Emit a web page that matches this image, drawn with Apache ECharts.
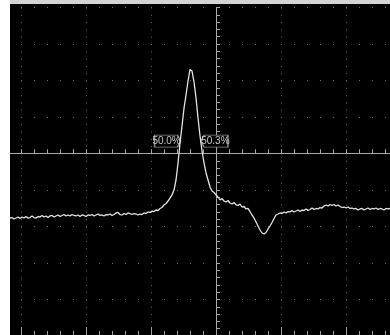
<!DOCTYPE html>
<html>
<head>
<meta charset="utf-8">
<script src="https://cdn.jsdelivr.net/npm/echarts@6/dist/echarts.min.js"></script>
<style>
html,body{margin:0;padding:0;background:#fff;}
#c{width:390px;height:335px;}
</style>
</head>
<body>
<div id="c"></div>
<script>
// Sampled waveform: time (ns) = timeStart + i * timeStep, voltage in mV (50 mV/div, 10 ns/div)
const timeStart = -31.69;
const timeStep = 0.3077;
const voltage = [
-88.4,-87.7,-89.7,-88.4,-87.0,-89.0,-87.0,-88.4,-86.3,-88.4,
-87.7,-85.6,-87.7,-88.4,-86.3,-87.0,-84.9,-87.0,-85.6,-87.7,
-85.6,-84.9,-87.0,-85.6,-84.2,-86.3,-84.9,-83.6,-85.6,-84.2,
-85.6,-83.6,-84.9,-85.6,-84.2,-86.3,-84.2,-84.9,-86.3,-84.2,
-84.9,-83.6,-85.6,-84.2,-82.9,-84.9,-84.2,-85.6,-83.6,-84.2,
-82.9,-84.9,-83.6,-81.5,-80.8,-83.6,-84.2,-82.2,-83.6,-81.5,
-82.2,-83.6,-82.2,-82.9,-84.2,-82.9,-83.6,-81.5,-82.2,-80.1,
-80.8,-78.8,-79.5,-77.4,-78.1,-75.3,-74.0,-70.5,-68.5,-65.1,
-61.0,-56.8,-50.0,-36.3,-13.0,14.4,37.7,62.3,80.1,99.3,
115.1,113.0,97.9,76.0,48.6,24.0,3.4,-13.0,-26.7,-36.3,
-45.9,-51.4,-53.4,-56.8,-59.6,-63.7,-61.8,-65.1,-66.4,-64.4,
-67.8,-69.2,-67.1,-70.5,-71.2,-69.2,-73.3,-72.6,-76.0,-75.3,
-79.5,-84.2,-88.4,-93.8,-99.3,-104.8,-108.9,-110.3,-108.2,-103.4,
-99.3,-94.5,-89.0,-84.2,-82.9,-81.5,-82.2,-80.1,-81.5,-79.5,
-80.1,-78.1,-80.1,-78.8,-77.4,-79.5,-77.4,-78.1,-76.0,-78.1,
-76.7,-74.7,-76.7,-75.3,-76.0,-74.0,-74.7,-71.9,-70.5,-71.9,
-69.9,-71.2,-69.9,-71.9,-70.5,-72.6,-74.0,-73.3,-74.7,-73.3,
-75.3,-74.7,-76.0,-75.3,-77.4,-76.0,-75.3,-77.4,-76.0,-74.7,
-76.7,-75.3,-76.0,-74.7,-76.7,-75.3,-76.0,-77.4,-75.3,-76.0,
-75.3
];
// Cursor readouts at the 50% crossings: [time ns, mV, text]
const cursorLabels = [
  [-5.45, 17, '50.0%'],
  [-2.4, 17, '50.3%']
];

const points = voltage.map((v, i) => [timeStart + i * timeStep, v]);

const gridLine = '#a8a8a8';
const dotColor = '#6a6a6a';

const chart = echarts.init(document.getElementById('c'), null, {renderer:'canvas'});
const xBase = {type:'value', min:-40, max:30, interval:10, axisLabel:{show:false}, gridIndex:0};
const yBase = {type:'value', min:-250, max:200, interval:50, axisLabel:{show:false}, gridIndex:0};

chart.setOption({
  animation:false,
  backgroundColor:'#000',
  grid:{left:-44, width:455, top:7.5, height:328.5, containLabel:false, outerBoundsMode:'none'},
  xAxis:[
    Object.assign({}, xBase, {
      axisLine:{show:true, onZero:true, lineStyle:{color:gridLine, width:1}},
      axisTick:{show:true, inside:true, length:4, lineStyle:{color:gridLine}},
      minorTick:{show:true, splitNumber:5, length:4, lineStyle:{color:gridLine}},
      splitLine:{show:true, lineStyle:{color:dotColor, width:1, type:[1,6.3]}}
    }),
    Object.assign({}, xBase, {
      axisLine:{show:true, onZero:true, lineStyle:{color:gridLine, width:1}},
      axisTick:{show:true, inside:false, length:4, lineStyle:{color:gridLine}},
      minorTick:{show:true, splitNumber:5, length:4, lineStyle:{color:gridLine}},
      splitLine:{show:false}
    }),
    Object.assign({}, xBase, {
      position:'bottom',
      axisLine:{show:true, onZero:false, lineStyle:{color:'#8a8a8a', width:1}},
      axisTick:{show:true, inside:true, length:9, lineStyle:{color:'#a0a0a0'}},
      minorTick:{show:true, splitNumber:5, length:5, lineStyle:{color:'#a0a0a0'}},
      splitLine:{show:false}
    })
  ],
  yAxis:[
    Object.assign({}, yBase, {
      axisLine:{show:true, onZero:true, onZeroAxisIndex:0, lineStyle:{color:gridLine, width:1}},
      axisTick:{show:true, inside:true, length:4, lineStyle:{color:gridLine}},
      minorTick:{show:true, splitNumber:5, length:4, lineStyle:{color:gridLine}},
      splitLine:{show:true, lineStyle:{color:dotColor, width:1, type:[1,12]}}
    }),
    Object.assign({}, yBase, {
      axisLine:{show:true, onZero:true, onZeroAxisIndex:0, lineStyle:{color:gridLine, width:1}},
      axisTick:{show:true, inside:false, length:4, lineStyle:{color:gridLine}},
      minorTick:{show:true, splitNumber:5, length:4, lineStyle:{color:gridLine}},
      splitLine:{show:false}
    })
  ],
  series:[{
    type:'line',
    xAxisIndex:0, yAxisIndex:0,
    data:points,
    showSymbol:false,
    lineStyle:{color:'#e4e4e4', width:1.3},
    z:5,
    markPoint:{
      silent:true,
      data:[
        {
          coord:[cursorLabels[0][0], cursorLabels[0][1]],
          symbol:'path://M0,0 L23,0 L26,6 L23,12 L0,12 Z',
          symbolSize:[26,12], symbolOffset:[-13,0],
          itemStyle:{color:'#000', borderColor:'#8c8c8c', borderWidth:1},
          label:{show:true, formatter:cursorLabels[0][2], position:'inside', offset:[-1,0.5],
            color:'#c8c8c8', fontSize:10, fontFamily:'Liberation Sans Narrow, Liberation Sans, sans-serif'}
        },
        {
          coord:[cursorLabels[1][0], cursorLabels[1][1]],
          symbol:'path://M3,0 L26,0 L26,12 L3,12 L0,6 Z',
          symbolSize:[27,12], symbolOffset:[14,0],
          itemStyle:{color:'#000', borderColor:'#8c8c8c', borderWidth:1},
          label:{show:true, formatter:cursorLabels[1][2], position:'inside', offset:[1,0.5],
            color:'#c8c8c8', fontSize:10, fontFamily:'Liberation Sans Narrow, Liberation Sans, sans-serif'}
        }
      ]
    }
  }],
  graphic:[
    {type:'rect', shape:{x:0, y:0, width:10, height:335}, style:{fill:'#ffffff'}, z:100, silent:true},
    {type:'rect', shape:{x:10, y:0, width:380, height:4}, style:{fill:'#d4d4d4'}, z:100, silent:true}
  ]
});
</script>
</body>
</html>
